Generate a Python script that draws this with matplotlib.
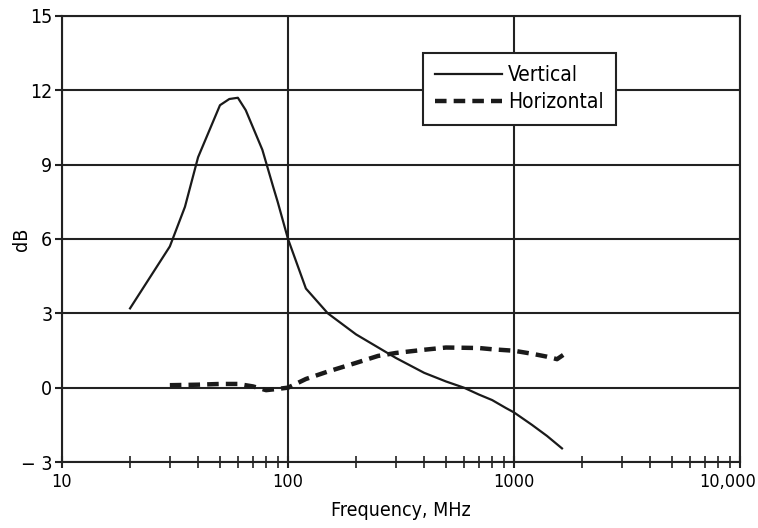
import matplotlib
matplotlib.use("Agg")
import matplotlib.pyplot as plt
from matplotlib.ticker import FixedLocator, FixedFormatter, LogLocator, NullFormatter
from matplotlib.transforms import ScaledTranslation

# data
vert_f = [20, 30, 35, 40, 50, 55, 60, 65, 70, 77, 86, 90, 100, 120, 150, 200, 300, 400, 500,
          600, 700, 800, 920, 1000, 1200, 1400, 1630]
vert_db = [3.2, 5.7, 7.3, 9.3, 11.4, 11.65, 11.7, 11.2, 10.5, 9.6, 8.1, 7.5, 6.0, 4.0, 3.0, 2.15,
           1.2, 0.6, 0.25, 0.0, -0.28, -0.5, -0.82, -1.0, -1.5, -1.95, -2.45]
horiz_f = [30, 40, 50, 60, 70, 80, 90, 100, 120, 150, 200, 250, 300, 400, 500, 600, 700, 800,
           1000, 1200, 1400, 1550, 1650]
horiz_db = [0.1, 0.12, 0.15, 0.15, 0.05, -0.1, -0.05, 0.0, 0.35, 0.65, 1.0, 1.28, 1.4, 1.53,
            1.62, 1.61, 1.6, 1.55, 1.49, 1.37, 1.25, 1.15, 1.32]
yticks = [-3, 0, 3, 6, 9, 12, 15]
ytick_labels = ['\u2212 3', '0', '3', '6', '9', '12', '15']
xticks = [10, 100, 1000, 10000]
xtick_labels = ['10', '100', '1000', '10,000']

plt.rcParams['font.family'] = ['DejaVu Sans']
plt.rcParams['font.stretch'] = 'condensed'

fig = plt.figure(figsize=(7.58, 5.28), dpi=100)
ax = fig.add_axes([0.0818, 0.125, 0.8945, 0.8447])

ax.plot(vert_f, vert_db, color='#1a1a1a', lw=1.6, label='Vertical')
ax.plot(horiz_f, horiz_db, color='#1a1a1a', lw=3.2, dashes=(2.6, 1.6), label='Horizontal')

ax.set_xscale('log')
ax.set_xlim(10, 10000)
ax.set_ylim(-3, 15)
ax.xaxis.set_major_locator(FixedLocator(xticks))
ax.xaxis.set_major_formatter(FixedFormatter(xtick_labels))
ax.xaxis.set_minor_locator(LogLocator(base=10, subs=range(2, 10)))
ax.xaxis.set_minor_formatter(NullFormatter())
ax.yaxis.set_major_locator(FixedLocator(yticks))
ax.yaxis.set_major_formatter(FixedFormatter(ytick_labels))

ax.grid(True, which='major', color='#222222', lw=1.5)
ax.set_axisbelow(True)
for s in ax.spines.values():
    s.set_color('#222222')
    s.set_linewidth(1.5)

ax.tick_params(axis='y', which='major', labelsize=14, direction='out', length=5, pad=2,
               color='#222222', width=1.5)
ax.tick_params(axis='x', which='major', labelsize=13, direction='inout', length=8, pad=4,
               color='#222222', width=1.5)
ax.tick_params(axis='x', which='minor', direction='inout', length=8, width=1.2, color='#222222')

ax.set_xlabel('Frequency, MHz', fontsize=14, labelpad=7)
ax.set_ylabel('dB', fontsize=14)
ax.yaxis.set_label_coords(-0.046, 0.5)

leg = ax.legend(loc='upper left', bbox_to_anchor=(0.532, 0.918), fontsize=15,
                frameon=True, fancybox=False, edgecolor='#222222', framealpha=1,
                handlelength=3.2, handletextpad=0.3, borderpad=0.6, labelspacing=0.35,
                borderaxespad=0)
leg.get_frame().set_linewidth(1.5)

# keep the last x label inside the figure, as in the reference
last = ax.xaxis.get_major_ticks()[-1].label1
last.set_horizontalalignment('right')
last.set_transform(last.get_transform() + ScaledTranslation(0.165, 0, fig.dpi_scale_trans))

fig.savefig('out.png', dpi=100)
